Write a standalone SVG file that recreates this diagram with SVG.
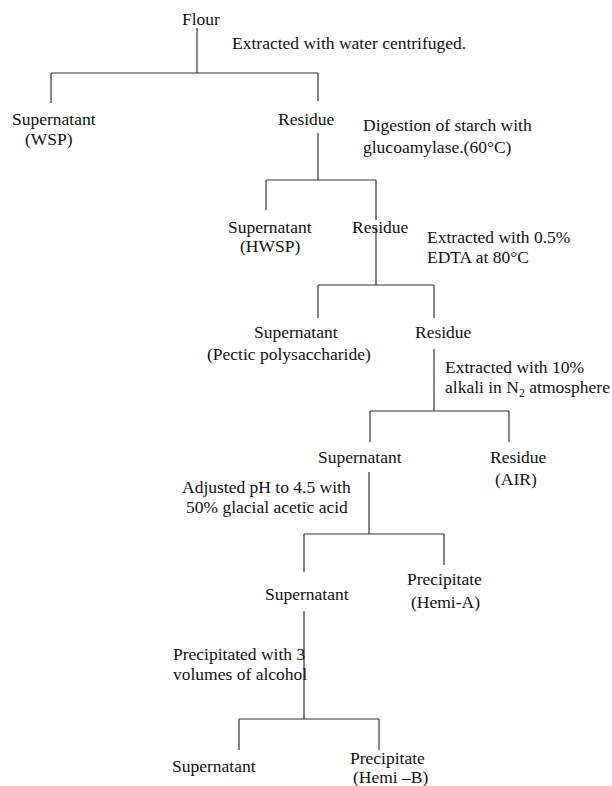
<svg xmlns="http://www.w3.org/2000/svg" width="612" height="786" viewBox="0 0 612 786">
<style>
text{font-family:"Liberation Serif","Times New Roman",serif;font-size:17.5px;fill:#111}
.c line{stroke:#333;stroke-width:1.2;fill:none}
</style>
<rect width="612" height="786" fill="#fff"/>
<g class="c" id="connectors">
<line x1="197" y1="28" x2="197" y2="73"/>
<line x1="51" y1="73" x2="318" y2="73"/>
<line x1="51" y1="73" x2="51" y2="103"/>
<line x1="318" y1="73" x2="318" y2="101"/>
<line x1="318" y1="133" x2="318" y2="180"/>
<line x1="266" y1="180" x2="376" y2="180"/>
<line x1="266" y1="180" x2="266" y2="210"/>
<line x1="376" y1="180" x2="376" y2="220"/>
<line x1="376" y1="227" x2="376" y2="285"/>
<line x1="318" y1="285" x2="434" y2="285"/>
<line x1="318" y1="285" x2="318" y2="318"/>
<line x1="434" y1="285" x2="434" y2="318"/>
<line x1="434" y1="349" x2="434" y2="411"/>
<line x1="370" y1="411" x2="509" y2="411"/>
<line x1="370" y1="411" x2="370" y2="442"/>
<line x1="509" y1="411" x2="509" y2="442"/>
<line x1="369" y1="472" x2="369" y2="534"/>
<line x1="304" y1="534" x2="444" y2="534"/>
<line x1="304" y1="534" x2="304" y2="572"/>
<line x1="444" y1="534" x2="444" y2="565"/>
<line x1="304" y1="611" x2="304" y2="719"/>
<line x1="239" y1="719" x2="379" y2="719"/>
<line x1="239" y1="719" x2="239" y2="750"/>
<line x1="379" y1="719" x2="379" y2="750"/>
</g>
<g id="flour"><text x="182" y="25">Flour</text></g>
<g id="step1"><text x="232" y="49">Extracted with water centrifuged.</text></g>
<g id="wsp"><text x="12" y="125">Supernatant</text><text x="25" y="145">(WSP)</text></g>
<g id="residue1"><text x="278" y="125">Residue</text></g>
<g id="step2"><text x="363" y="131">Digestion of starch with</text><text x="363" y="153">glucoamylase.(60°C)</text></g>
<g id="hwsp"><text x="228" y="233">Supernatant</text><text x="240" y="252">(HWSP)</text></g>
<g id="residue2"><text x="352" y="233">Residue</text></g>
<g id="step3"><text x="427" y="243">Extracted with 0.5%</text><text x="427" y="263">EDTA at 80°C</text></g>
<g id="pectic"><text x="254" y="338">Supernatant</text><text x="207" y="360">(Pectic polysaccharide)</text></g>
<g id="residue3"><text x="415" y="338">Residue</text></g>
<g id="step4"><text x="445" y="373">Extracted with 10%</text><text x="445" y="393">alkali in N<tspan dy="4" font-size="12">2</tspan><tspan dy="-4"> atmosphere</tspan></text></g>
<g id="supernatant4"><text x="318" y="463">Supernatant</text></g>
<g id="air"><text x="490" y="463">Residue</text><text x="495" y="485">(AIR)</text></g>
<g id="step5"><text x="182" y="493">Adjusted pH to 4.5 with</text><text x="186" y="513">50% glacial acetic acid</text></g>
<g id="supernatant5"><text x="265" y="600">Supernatant</text></g>
<g id="hemiA"><text x="407" y="585">Precipitate</text><text x="411" y="608">(Hemi-A)</text></g>
<g id="step6"><text x="173" y="660">Precipitated with 3</text><text x="173" y="680">volumes of alcohol</text></g>
<g id="supernatant6"><text x="172" y="772">Supernatant</text></g>
<g id="hemiB"><text x="350" y="764">Precipitate</text><text x="353" y="783">(Hemi –B)</text></g>
</svg>
